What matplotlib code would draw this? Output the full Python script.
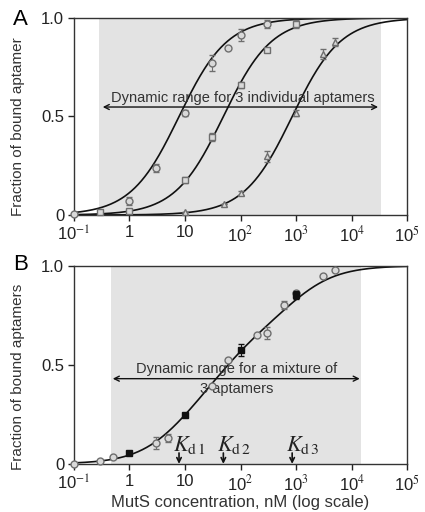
import matplotlib
matplotlib.use("Agg")
import matplotlib.pyplot as plt
import numpy as np

plt.rcParams['font.family'] = ['Liberation Sans', 'DejaVu Sans']
plt.rcParams['mathtext.fontset'] = 'stix'

# Panel A data: three individual aptamers
circ_x = [0.1, 1, 3, 10, 30, 60, 100, 300]
circ_y = [0.005, 0.073, 0.237, 0.517, 0.771, 0.847, 0.915, 0.971]
circ_err = [0.0, 0.02, 0.02, 0.015, 0.04, 0.0, 0.03, 0.02]

sq_x = [0.3, 1, 10, 30, 100, 300, 1000]
sq_y = [0.014, 0.02, 0.178, 0.398, 0.658, 0.836, 0.971]
sq_err = [0.0, 0.01, 0.015, 0.02, 0.015, 0.01, 0.02]

tri_x = [10, 50, 100, 300, 1000, 3000, 5000]
tri_y = [0.017, 0.056, 0.114, 0.297, 0.517, 0.817, 0.876]
tri_err = [0.0, 0.0, 0.01, 0.03, 0.015, 0.025, 0.02]

# fitted dissociation constants (nM)
kd = [7.8, 49, 850]

# Panel B data: mixture of 3 aptamers
mix_x = [0.1, 0.3, 0.5, 3, 5, 30, 60, 200, 300, 600, 1000, 3000, 5000]
mix_y = [0.0, 0.013, 0.037, 0.104, 0.131, 0.394, 0.526, 0.652, 0.66, 0.803, 0.862, 0.95, 0.978]
mix_err = [0.0, 0.0, 0.0, 0.03, 0.02, 0.0, 0.0, 0.0, 0.03, 0.02, 0.0, 0.0, 0.0]

blk_x = [1, 10, 100, 1000]
blk_y = [0.054, 0.247, 0.575, 0.852]
blk_err = [0.01, 0.01, 0.03, 0.02]

xticks = [0.1, 1, 10, 100, 1000, 10000, 100000]
xticklabels = ['10$^{-1}$', '1', '10', '10$^2$', '10$^3$', '10$^4$', '10$^5$']
kd_labels = [r'$K_{\mathrm{d}\,1}$', r'$K_{\mathrm{d}\,2}$', r'$K_{\mathrm{d}\,3}$']

fig = plt.figure(figsize=(4.25, 5.12), dpi=100)
axA = fig.add_axes([0.174, 0.580, 0.784, 0.385])
axB = fig.add_axes([0.174, 0.094, 0.784, 0.387])

xs = np.logspace(-1, 5, 400)
face = '#d9d9d9'
edge = '#6e6e6e'
txt = '#333333'


def style(ax):
    ax.set_xscale('log')
    ax.set_xlim(0.1, 1e5)
    ax.set_ylim(0, 1.0)
    ax.set_xticks(xticks)
    ax.set_xticklabels(xticklabels)
    ax.minorticks_off()
    ax.set_yticks([0, 0.5, 1.0])
    ax.set_yticklabels(['0', '0.5', '1.0'])
    ax.tick_params(direction='out', length=4, width=1, labelsize=12, colors='#222222',
                   pad=3)
    for s in ax.spines.values():
        s.set_linewidth(1.0)
        s.set_color('#333333')


# ---- Panel A ----
style(axA)
axA.axvspan(0.28, 34000, color='#e3e3e3', zorder=0, lw=0)
for k in kd:
    axA.plot(xs, xs / (k + xs), color='#111111', lw=1.2, zorder=2)
axA.errorbar(circ_x, circ_y, yerr=circ_err, fmt='o', ms=5, mfc=face, mec=edge,
             ecolor=edge, elinewidth=0.8, capsize=2, clip_on=False, zorder=3)
axA.errorbar(sq_x, sq_y, yerr=sq_err, fmt='s', ms=5, mfc=face, mec=edge,
             ecolor=edge, elinewidth=0.8, capsize=2, clip_on=False, zorder=3)
axA.errorbar(tri_x, tri_y, yerr=tri_err, fmt='^', ms=5, mfc=face, mec=edge,
             ecolor=edge, elinewidth=0.8, capsize=2, clip_on=False, zorder=3)
axA.annotate('', xy=(0.33, 0.548), xytext=(30000, 0.548),
             arrowprops=dict(arrowstyle='<->', color='#111111', lw=1.0,
                             mutation_scale=9, shrinkA=0, shrinkB=0))
axA.text(110, 0.56, 'Dynamic range for 3 individual aptamers', ha='center',
         va='bottom', fontsize=10.5, color=txt)
axA.set_ylabel('Fraction of bound aptamer', fontsize=11, color=txt)
axA.yaxis.set_label_coords(-0.147, 0.45)
fig.text(0.031, 0.983, 'A', fontsize=16, va='top', ha='left')

# ---- Panel B ----
style(axB)
axB.axvspan(0.47, 15000, color='#e3e3e3', zorder=0, lw=0)
mix_fit = sum(xs / (k + xs) for k in kd) / 3
axB.plot(xs, mix_fit, color='#111111', lw=1.2, zorder=2)
axB.errorbar(mix_x, mix_y, yerr=mix_err, fmt='o', ms=5, mfc=face, mec=edge,
             ecolor=edge, elinewidth=0.8, capsize=2, clip_on=False, zorder=3)
axB.errorbar(blk_x, blk_y, yerr=blk_err, fmt='s', ms=5, mfc='#111111', mec='#111111',
             ecolor='#111111', elinewidth=0.8, capsize=2, clip_on=False, zorder=4)
axB.annotate('', xy=(0.5, 0.43), xytext=(14000, 0.43),
             arrowprops=dict(arrowstyle='<->', color='#111111', lw=1.0,
                             mutation_scale=9, shrinkA=0, shrinkB=0))
axB.text(85, 0.445, 'Dynamic range for a mixture of', ha='center', va='bottom',
         fontsize=10.5, color=txt)
axB.text(85, 0.415, '3 aptamers', ha='center', va='top', fontsize=10.5, color=txt)
for k, lab in zip(kd, kd_labels):
    axB.annotate('', xy=(k, 0.0), xytext=(k, 0.055),
                 arrowprops=dict(arrowstyle='->', color='#111111', lw=1.2,
                                 mutation_scale=8, shrinkA=0, shrinkB=0))
    axB.text(k * 0.78, 0.065, lab, ha='left', va='baseline', fontsize=16,
             color='#222222')
axB.set_ylabel('Fraction of bound aptamers', fontsize=11, color=txt)
axB.yaxis.set_label_coords(-0.147, 0.44)
axB.set_xlabel('MutS concentration, nM (log scale)', fontsize=12, color=txt,
               labelpad=1)
fig.text(0.031, 0.503, 'B', fontsize=16, va='top', ha='left')

fig.savefig('out.png', dpi=100)
